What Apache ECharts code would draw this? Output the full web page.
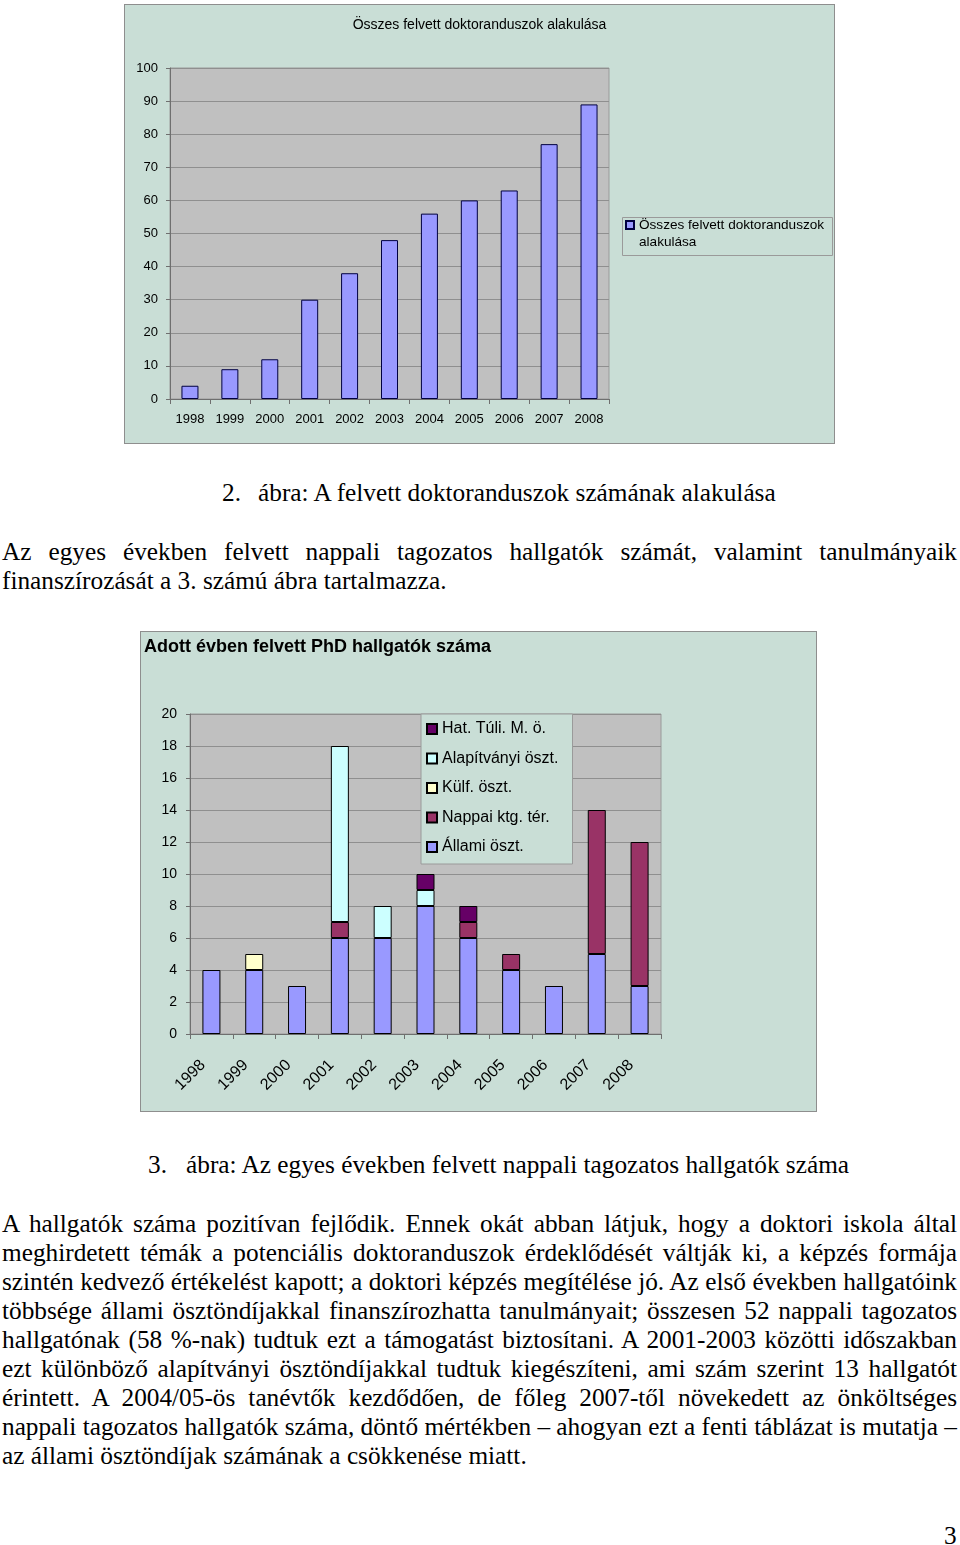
<!DOCTYPE html>
<html><head><meta charset="utf-8">
<script src="https://cdn.jsdelivr.net/npm/echarts@6/dist/echarts.min.js"></script>
<style>
html,body{margin:0;padding:0;background:#fff;}
body{width:960px;height:1545px;position:relative;overflow:hidden;font-family:"Liberation Serif","Times New Roman",serif;}
.c{position:absolute;border:1px solid #8e8e8e;}
.t{position:absolute;white-space:nowrap;font-size:25.3px;line-height:29px;color:#000;}
</style></head><body>
<div id="c1" class="c" style="left:124px;top:4px;width:709px;height:438px"></div>
<div id="c2" class="c" style="left:140px;top:631px;width:675px;height:479px"></div>
<script>
// ---- data ----
const years = ['1998','1999','2000','2001','2002','2003','2004','2005','2006','2007','2008'];
const totalAdmitted = [4, 9, 12, 30, 38, 48, 56, 60, 63, 77, 89];
const allamiOszt   = [4, 4, 3, 6, 6, 8, 6, 4, 3, 5, 3];
const nappaiKtg    = [0, 0, 0, 1, 0, 0, 1, 1, 0, 9, 9];
const kulfOszt     = [0, 1, 0, 0, 0, 0, 0, 0, 0, 0, 0];
const alapitvanyi  = [0, 0, 0, 11, 2, 1, 0, 0, 0, 0, 0];
const hatTuli      = [0, 0, 0, 0, 0, 1, 1, 0, 0, 0, 0];
const yTicks1 = {min: 0, max: 100, interval: 10};
const yTicks2 = {min: 0, max: 20, interval: 2};

const SANS = '"Liberation Sans", Arial, sans-serif';
const BG = '#C9DED6';
const PLOT = '#C0C0C0';

// ---- chart 1 ----
const c1 = echarts.init(document.getElementById('c1'));
c1.setOption({
  backgroundColor: BG,
  animation: false,
  title: {text: 'Összes felvett doktoranduszok alakulása', left: 'center', top: 13, padding: 0,
    textStyle: {fontFamily: SANS, fontSize: 14, fontWeight: 'normal', color: '#000'}},
  grid: {left: 45, top: 63, width: 439, height: 331, show: true, backgroundColor: PLOT,
    borderColor: '#9a9a9a', borderWidth: 1},
  legend: {left: 500, top: 194.5, padding: 0, itemWidth: 8, itemHeight: 8, icon: 'rect',
    data: ['Összes felvett doktoranduszok alakulása'],
    formatter: () => '\nÖsszes felvett doktoranduszok\nalakulása',
    textStyle: {fontFamily: SANS, fontSize: 13.6, lineHeight: 17, color: '#000'}},
  graphic: [{type: 'rect', left: 495, top: 210, shape: {width: 210, height: 38},
    style: {fill: 'none', stroke: '#9a9a9a', lineWidth: 1}, silent: true}],
  xAxis: {type: 'category', data: years,
    axisLine: {lineStyle: {color: '#6f6f6f'}},
    axisTick: {show: true, length: 5, lineStyle: {color: '#6f6f6f'}},
    axisLabel: {fontFamily: SANS, fontSize: 13, color: '#000', margin: 14}},
  yAxis: {type: 'value', min: yTicks1.min, max: yTicks1.max, interval: yTicks1.interval,
    axisLine: {show: true, lineStyle: {color: '#6f6f6f'}},
    axisTick: {show: true, length: 4, lineStyle: {color: '#6f6f6f'}},
    splitLine: {lineStyle: {color: '#8f8f8f'}},
    axisLabel: {fontFamily: SANS, fontSize: 13, color: '#000', margin: 12}},
  series: [{name: 'Összes felvett doktoranduszok alakulása', type: 'bar', data: totalAdmitted,
    barWidth: 17, itemStyle: {color: '#9999FF', borderColor: '#000040', borderWidth: 1}}]
});

// ---- chart 2 ----
const nz = a => a.map(v => v === 0 ? '-' : v);
const c2 = echarts.init(document.getElementById('c2'));
const mk = (name, arr, color) => ({name, type: 'bar', stack: 'a', data: nz(arr), barWidth: 18,
  itemStyle: {color, borderColor: '#000', borderWidth: 1}});
c2.setOption({
  backgroundColor: BG,
  animation: false,
  title: {text: 'Adott évben felvett PhD hallgatók száma', left: 3, top: 6, padding: 0,
    textStyle: {fontFamily: SANS, fontSize: 18, fontWeight: 'bold', color: '#000'}},
  grid: {left: 49, top: 82, width: 471, height: 320, show: true, backgroundColor: PLOT,
    borderColor: '#9a9a9a', borderWidth: 1},
  legend: {orient: 'vertical', left: 280, top: 82, padding: [6, 14, 8, 5], itemWidth: 10, itemHeight: 10,
    itemGap: 11.5, icon: 'rect', backgroundColor: BG, borderColor: '#9a9a9a', borderWidth: 1,
    data: ['Hat. Túli. M. ö.', 'Alapítványi öszt.', 'Külf. öszt.', 'Nappai ktg. tér.', 'Állami öszt.'],
    textStyle: {fontFamily: SANS, fontSize: 16, lineHeight: 18, color: '#000'}},
  xAxis: {type: 'category', data: years,
    axisLine: {lineStyle: {color: '#6f6f6f'}},
    axisTick: {show: true, length: 5, lineStyle: {color: '#6f6f6f'}},
    axisLabel: {fontFamily: SANS, fontSize: 16, color: '#000', rotate: 45, margin: 20,
      padding: [0, 12, 0, 0]}},
  yAxis: {type: 'value', min: yTicks2.min, max: yTicks2.max, interval: yTicks2.interval,
    axisLine: {show: true, lineStyle: {color: '#6f6f6f'}},
    axisTick: {show: true, length: 4, lineStyle: {color: '#6f6f6f'}},
    splitLine: {lineStyle: {color: '#8f8f8f'}},
    axisLabel: {fontFamily: SANS, fontSize: 14, color: '#000', margin: 13}},
  series: [
    mk('Állami öszt.', allamiOszt, '#9999FF'),
    mk('Nappai ktg. tér.', nappaiKtg, '#993366'),
    mk('Külf. öszt.', kulfOszt, '#FFFFCC'),
    mk('Alapítványi öszt.', alapitvanyi, '#CCFFFF'),
    mk('Hat. Túli. M. ö.', hatTuli, '#660066')
  ]
});

// ---- page text ----
const TL = 2, TW = 955;
function line(text, cy, justify, left) {
  const d = document.createElement('div');
  d.className = 't';
  d.style.top = (cy - 14.5) + 'px';
  d.style.left = (left === undefined ? TL : left) + 'px';
  d.textContent = text;
  document.body.appendChild(d);
  if (justify) {
    const w = d.getBoundingClientRect().width;
    const n = (text.match(/ /g) || []).length;
    if (w < TW && n > 0) d.style.wordSpacing = ((TW - w) / n) + 'px';
    else if (w > TW) { d.style.transformOrigin = '0 0'; d.style.transform = 'scaleX(' + (TW / w) + ')'; }
  }
}
line('2.', 492, false, 222);
line('ábra: A felvett doktoranduszok számának alakulása', 492, false, 258);
line('Az egyes években felvett nappali tagozatos hallgatók számát, valamint tanulmányaik', 551, true);
line('finanszírozását a 3. számú ábra tartalmazza.', 580, false);
line('3.', 1164, false, 148);
line('ábra: Az egyes években felvett nappali tagozatos hallgatók száma', 1164, false, 186);
const para = [
  'A hallgatók száma pozitívan fejlődik. Ennek okát abban látjuk, hogy a doktori iskola által',
  'meghirdetett témák a potenciális doktoranduszok érdeklődését váltják ki, a képzés formája',
  'szintén kedvező értékelést kapott; a doktori képzés megítélése jó. Az első években hallgatóink',
  'többsége állami ösztöndíjakkal finanszírozhatta tanulmányait; összesen 52 nappali tagozatos',
  'hallgatónak (58 %-nak) tudtuk ezt a támogatást biztosítani. A 2001-2003 közötti időszakban',
  'ezt különböző alapítványi ösztöndíjakkal tudtuk kiegészíteni, ami szám szerint 13 hallgatót',
  'érintett. A 2004/05-ös tanévtők kezdődően, de főleg 2007-től növekedett az önköltséges',
  'nappali tagozatos hallgatók száma, döntő mértékben – ahogyan ezt a fenti táblázat is mutatja –',
  'az állami ösztöndíjak számának a csökkenése miatt.'
];
para.forEach((s, i) => line(s, 1223 + 29 * i, i < para.length - 1));
line('3', 1535, false, 944);
</script>
</body></html>
